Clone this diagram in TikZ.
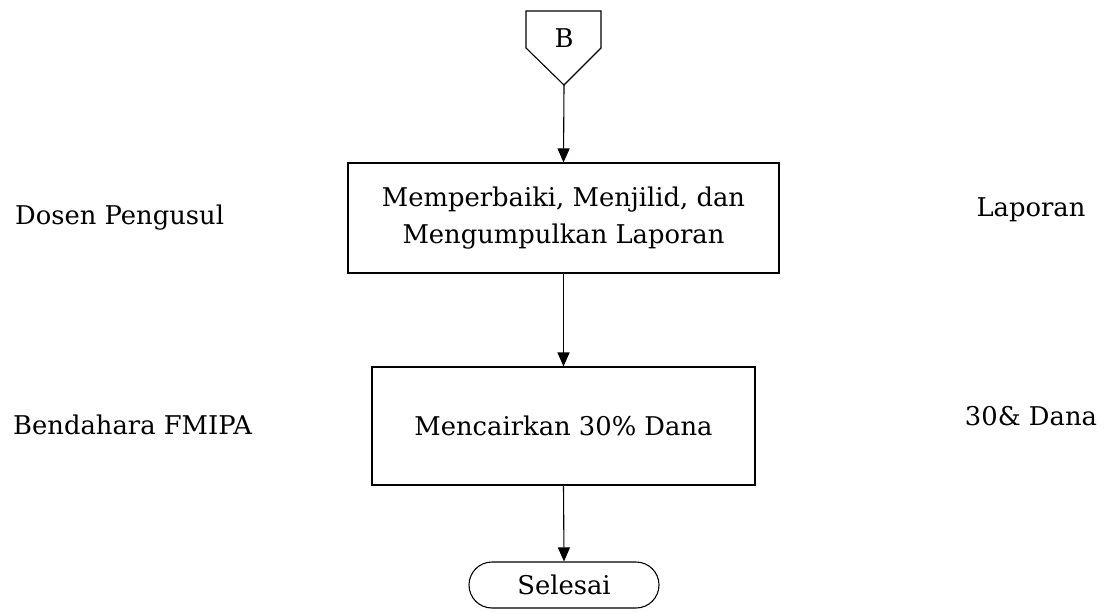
\documentclass[tikz,border=0pt]{standalone}
\usepackage{fontspec}
\setmainfont{DejaVu Serif}
\usetikzlibrary{arrows.meta,shapes.misc}
\begin{document}
\begin{tikzpicture}[x=1pt,y=-1pt,
  line/.style={line width=1.1pt},
  arr/.style={line,-{Triangle[length=14pt,width=12pt]}},
  proc/.style={draw,line width=1.1pt,minimum width=#1,align=center,font=\fontsize{25.8}{37}\selectfont,inner sep=0pt},
  lbl/.style={font=\fontsize{25.8}{30}\selectfont,inner sep=0pt},
  term/.style={draw,line width=1.1pt,rounded rectangle,minimum width=190pt,minimum height=46pt,font=\fontsize{25.8}{30}\selectfont,inner sep=0pt}]
\useasboundingbox (0,0) rectangle (1108,612);
% off-page connector B
\draw[line] (526,11) -- (601,11) -- (601,48) -- (564,85) -- (526,48) -- cycle;
\node[lbl] (B) at (564,38) {B};
\coordinate (Btip) at (564,85);
% process boxes
\node[proc=431pt,minimum height=110pt] (p1) at (563.5,218) {Memperbaiki, Menjilid, dan\\Mengumpulkan Laporan};
\node[proc=383pt,minimum height=118pt] (p2) at (563.5,426) {Mencairkan 30\% Dana};
\node[term] (end) at (564,585) {Selesai};
% connectors
\draw[arr] (Btip) -- (p1.north);
\draw[arr] (p1.south) -- (p2.north);
\draw[arr] (p2.south) -- (end.north);
% side labels
\node[lbl,anchor=west] (l1) at (15,218) {Dosen Pengusul};
\node[lbl] (r1) at (1031,210) {Laporan};
\node[lbl,anchor=west] (l2) at (13,425) {Bendahara FMIPA};
\node[lbl] (r2) at (1031,416) {30\& Dana};
\end{tikzpicture}
\end{document}
